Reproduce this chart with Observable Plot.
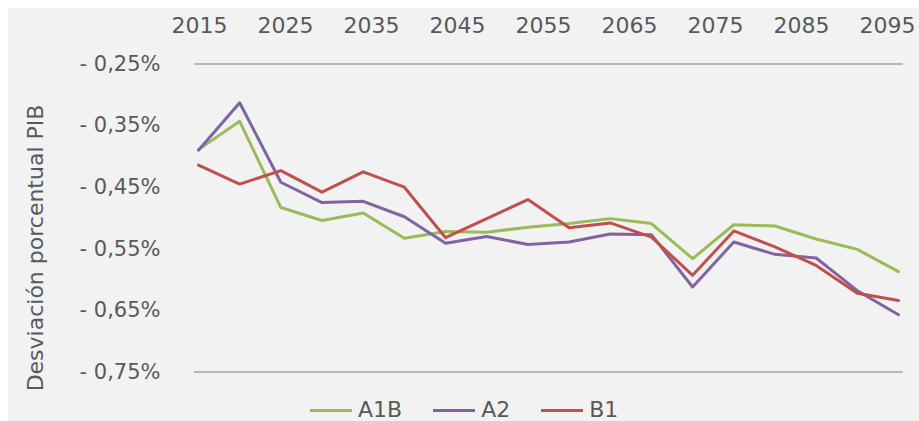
<!DOCTYPE html>
<html>
<head>
<meta charset="utf-8">
<script src="https://cdn.jsdelivr.net/npm/d3@7"></script>
<script src="https://cdn.jsdelivr.net/npm/@observablehq/plot@0.6"></script>
<style>
html, body { margin: 0; padding: 0; background: #fff; }
#wrap { position: relative; width: 919px; height: 421px; overflow: hidden; background: #fff; font-family: "DejaVu Sans", sans-serif; }
#bg { position: absolute; left: 8px; top: 8px; right: 0; bottom: 0; background: #f2f2f2; }
#wrap svg { position: absolute; left: 0; top: 0; }
#legend { position: absolute; left: 310px; top: 399px; display: flex; align-items: center; gap: 31px; font-size: 22px; line-height: 22px; color: #595959; white-space: nowrap; }
#legend .item { display: flex; align-items: center; }
#legend .sw { display: inline-block; width: 42px; height: 3px; margin-right: 6px; }
</style>
</head>
<body>
<div id="wrap">
  <div id="bg"></div>
  <div id="topAxis"></div>
  <div id="mainChart"></div>
  <div id="legend"></div>
</div>
<script>
// ---- data ----
const years = [2015, 2020, 2025, 2030, 2035, 2040, 2045, 2050, 2055, 2060, 2065, 2070, 2075, 2080, 2085, 2090, 2095, 2100];
const seriesNames = ["A1B", "A2", "B1"];
const seriesColors = ["#9bbb59", "#8064a2", "#c0504d"];
const a1b = [-0.389, -0.343, -0.483, -0.504, -0.492, -0.533, -0.522, -0.523, -0.515, -0.509, -0.501, -0.509, -0.566, -0.511, -0.513, -0.534, -0.551, -0.587];
const a2  = [-0.390, -0.313, -0.442, -0.475, -0.473, -0.498, -0.541, -0.530, -0.543, -0.539, -0.526, -0.527, -0.612, -0.539, -0.559, -0.565, -0.618, -0.657];
const b1  = [-0.414, -0.445, -0.423, -0.458, -0.425, -0.450, -0.532, -0.501, -0.470, -0.516, -0.508, -0.531, -0.593, -0.521, -0.547, -0.577, -0.622, -0.634];
const xTickLabels = ["2015", "2025", "2035", "2045", "2055", "2065", "2075", "2085", "2095"];
const yTicks = [-0.25, -0.35, -0.45, -0.55, -0.65, -0.75];
const yTitle = "Desviación porcentual PIB";

const seriesValues = [a1b, a2, b1];
const data = seriesNames.flatMap((s, k) => years.map((yr, i) => ({year: yr, value: seriesValues[k][i], series: s})));
const fmt = d => "- " + Math.abs(d).toFixed(2).replace(".", ",") + "%";
const textColor = "#595959";

// ---- main chart ----
const mainPlot = Plot.plot({
  width: 919,
  height: 421,
  marginLeft: 198,
  marginRight: 21,
  marginTop: 63.5,
  marginBottom: 49.5,
  style: {background: "transparent", fontFamily: "DejaVu Sans, sans-serif", color: textColor},
  x: {domain: [years[0], years[years.length - 1]], axis: null},
  y: {domain: [yTicks[yTicks.length - 1], yTicks[0]], axis: null},
  color: {domain: seriesNames, range: seriesColors},
  marks: [
    Plot.ruleY([yTicks[0], yTicks[yTicks.length - 1]], {stroke: "#a3a3a3", strokeWidth: 1.5, insetLeft: -4, insetRight: -5}),
    Plot.axisY(yTicks, {tickSize: 0, tickPadding: 38, tickFormat: fmt, fontSize: 21, fill: textColor, label: null}),
    Plot.line(data, {x: "year", y: "value", z: "series", stroke: "series", strokeWidth: 3, strokeLinejoin: "round"}),
    Plot.text([yTitle], {frameAnchor: "left", rotate: -90, dx: -163, dy: 30, fontSize: 22, fill: textColor, textAnchor: "middle", lineAnchor: "middle"})
  ]
});
document.getElementById("mainChart").appendChild(mainPlot);

// ---- top category labels ----
const topPlot = Plot.plot({
  width: 919,
  height: 45,
  marginLeft: 197.5,
  marginRight: 31,
  marginTop: 37,
  marginBottom: 0,
  style: {background: "transparent", fontFamily: "DejaVu Sans, sans-serif", color: textColor},
  x: {type: "point", domain: xTickLabels, padding: 0},
  marks: [
    Plot.axisX({anchor: "top", tickSize: 0, tickPadding: 5, fontSize: 22, fill: textColor, label: null})
  ]
});
document.getElementById("topAxis").appendChild(topPlot);

// ---- legend ----
const legendEl = document.getElementById("legend");
seriesNames.forEach((s, i) => {
  const item = document.createElement("span");
  item.className = "item";
  const sw = document.createElement("span");
  sw.className = "sw";
  sw.style.background = seriesColors[i];
  const t = document.createElement("span");
  t.textContent = s;
  item.appendChild(sw);
  item.appendChild(t);
  legendEl.appendChild(item);
});
</script>
</body>
</html>
